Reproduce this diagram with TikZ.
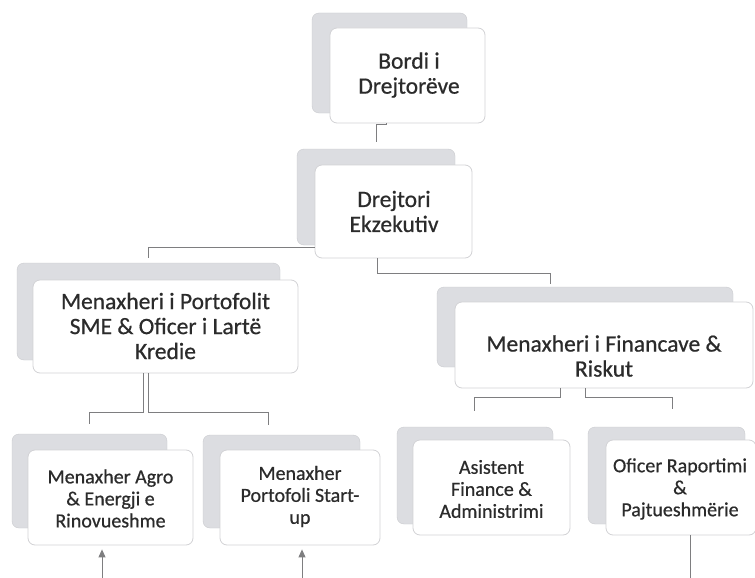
\documentclass[tikz,border=0pt]{standalone}
\usepackage{fontspec}
\setmainfont{Carlito}[FakeBold=0.6]
\usetikzlibrary{arrows.meta}
\definecolor{shadowgray}{HTML}{DCDDE1}
\definecolor{framegray}{HTML}{D2D2D5}
\definecolor{linegray}{HTML}{7E7E80}
\definecolor{txtgray}{HTML}{2B2B2B}
\tikzset{
  back/.style={rectangle, rounded corners=7pt, fill=shadowgray, draw=shadowgray!92!black, line width=0.4pt, inner sep=0pt},
  front/.style={rectangle, rounded corners=7pt, fill=white, draw=framegray, line width=0.8pt, inner sep=0pt},
  bigtxt/.style={align=center, text=txtgray, inner sep=0pt, font=\fontsize{23.5}{25}\selectfont},
  smalltxt/.style={align=center, text=txtgray, inner sep=0pt, font=\fontsize{20}{22}\selectfont},
  conn/.style={draw=linegray, line width=1pt},
  uparrow/.style={draw=linegray, line width=1pt, -{Triangle[length=8pt,width=7pt]}}
}
\begin{document}
\begin{tikzpicture}[x=1pt, y=-1pt]
\useasboundingbox (0,0) rectangle (755,578);
\fill[white] (0,0) rectangle (755,578);

% Bordi
\node[back, minimum width=155pt, minimum height=100pt] (s1) at (389.5,63) {};
\node[front, minimum width=155pt, minimum height=95pt] (b1) at (407.5,75.5) {};
\node[bigtxt] (t1) at (409,75) {Bordi i\\Drejtorëve};

% Drejtori
\node[back, minimum width=158pt, minimum height=96pt] (s2) at (376,197) {};
\node[front, minimum width=157pt, minimum height=93pt] (b2) at (393.5,211.5) {};
\node[bigtxt] (t2) at (394,211.5) {Drejtori\\Ekzekutiv};

% Portofolit
\node[back, minimum width=263pt, minimum height=97pt] (s3) at (148.5,311.5) {};
\node[front, minimum width=265pt, minimum height=93pt] (b3) at (165.5,326.5) {};
\node[bigtxt] (t3) at (165.5,326) {Menaxheri i Portofolit\\SME \& Oficer i Lartë\\Kredie};

% Financave
\node[back, minimum width=296pt, minimum height=80pt] (s4) at (585,327) {};
\node[front, minimum width=298pt, minimum height=86pt] (b4) at (604,345) {};
\node[bigtxt] (t4) at (604,356) {Menaxheri i Financave \&\\Riskut};

% Agro
\node[back, minimum width=155pt, minimum height=94pt] (s5) at (89.5,481) {};
\node[front, minimum width=165pt, minimum height=95pt] (b5) at (110.5,497.5) {};
\node[smalltxt] (t5) at (110.5,498.5) {Menaxher Agro\\\& Energji e\\Rinovueshme};

% Start-up
\node[back, minimum width=157pt, minimum height=93pt] (s6) at (281.5,481.5) {};
\node[front, minimum width=160pt, minimum height=95pt] (b6) at (300,497.5) {};
\node[smalltxt] (t6) at (300,496.5) {Menaxher\\Portofoli Start-\\up};

% Asistent
\node[back, minimum width=156pt, minimum height=97pt] (s7) at (475,475.5) {};
\node[front, minimum width=157pt, minimum height=95pt] (b7) at (491.5,487.5) {};
\node[smalltxt] (t7) at (491.5,489) {Asistent\\Finance \&\\Administrimi};

% Oficer
\node[back, minimum width=157pt, minimum height=97pt] (s8) at (666.5,475.5) {};
\node[front, minimum width=150pt, minimum height=95pt] (b8) at (681,487.5) {};
\node[smalltxt] (t8) at (680,489) {Oficer Raportimi\\\&\\Pajtueshmërie};

% connectors
\draw[conn] ([xshift=-21.5pt]b1.south) -- ++(0,1) -| ([yshift=7pt]s2.north);
\draw[conn] ([yshift=11pt]b2.south west) -| ([yshift=5pt]s3.north);
\draw[conn] ([xshift=-16.5pt]b2.south) -- ++(0,15) -| ([xshift=-35pt,yshift=3pt]s4.north);
\draw[conn] ([xshift=-22.5pt]b3.south) -- ++(0,39) -| ([yshift=10pt]s5.north);
\draw[conn] ([xshift=-17.5pt]b3.south) -- ++(0,39) -| ([xshift=-13.5pt,yshift=10pt]s6.north);
\draw[conn] ([xshift=-44pt]b4.south) -- ++(0,9) -| ([xshift=-1pt,yshift=16pt]s7.north);
\draw[conn] ([xshift=-19pt]b4.south) -- ++(0,9) -| ([xshift=6pt,yshift=18pt]s8.north);

\coordinate (e8) at (690,578);
\draw[conn] (b8.south -| e8) -- (e8);
\coordinate (e5) at (102,578);
\coordinate (e6) at (302,578);
\draw[uparrow] (e5) -- ([yshift=-4pt]b5.south -| e5);
\draw[uparrow] (e6) -- ([yshift=-4pt]b6.south -| e6);
\end{tikzpicture}
\end{document}
